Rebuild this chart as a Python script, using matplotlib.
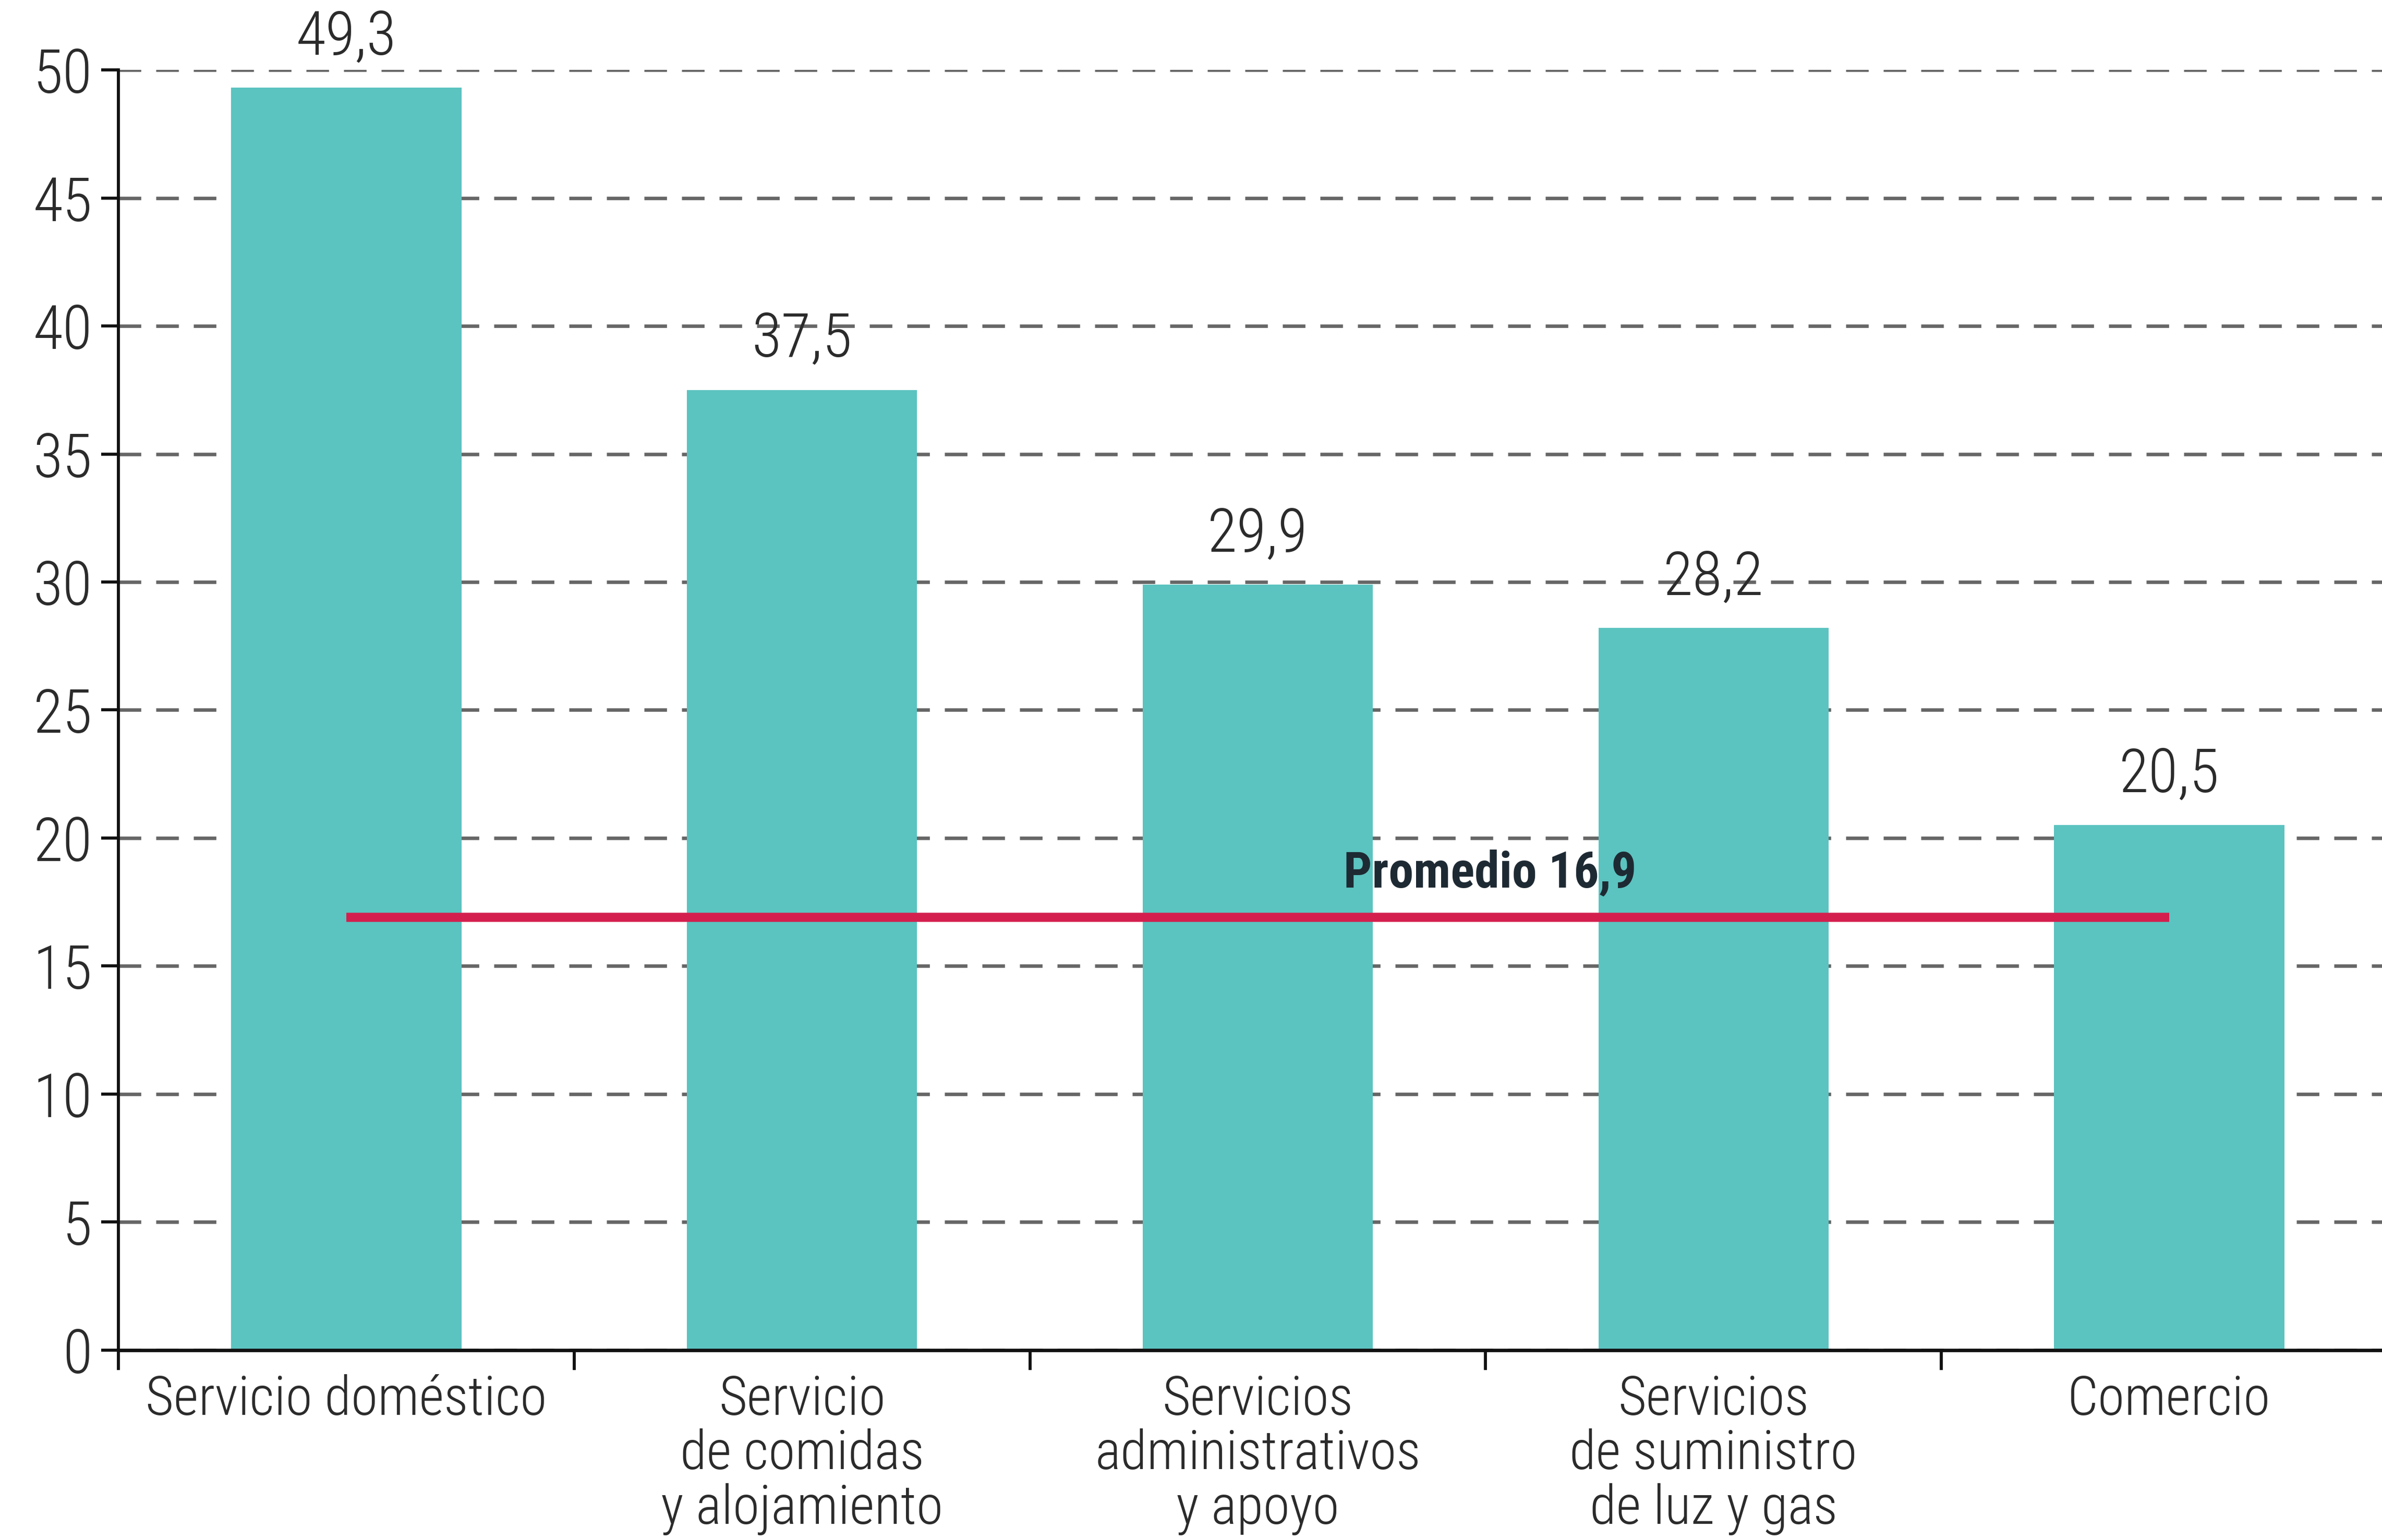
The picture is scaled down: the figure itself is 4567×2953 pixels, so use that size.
import matplotlib
matplotlib.use("Agg")
import matplotlib.pyplot as plt
from matplotlib.ticker import FixedLocator, NullFormatter

plt.rcParams['font.family'] = ['Roboto Condensed', 'Archivo Narrow',
                               'IBM Plex Sans Condensed', 'DejaVu Sans']

# data
categories = ["Servicio doméstico",
              "Servicio\nde comidas\ny alojamiento",
              "Servicios\nadministrativos\ny apoyo",
              "Servicios\nde suministro\nde luz y gas",
              "Comercio"]
values = [49.3, 37.5, 29.9, 28.2, 20.5]
value_labels = ["49,3", "37,5", "29,9", "28,2", "20,5"]
average = 16.9
average_label = "Promedio 16,9"
y_ticks = [0, 5, 10, 15, 20, 25, 30, 35, 40, 45, 50]

bar_color = "#5BC3C0"
avg_color = "#D41F4E"
text_color = "#2b2b2b"

fig = plt.figure(figsize=(4567 / 300, 2953 / 300), dpi=300)
ax = fig.add_axes([0.0497, 0.1233, 1500 / 1568, 0.8313])

x = list(range(len(categories)))
ax.bar(x, values, width=0.505, color=bar_color, zorder=2)

# value labels above bars
for xi, v, lab in zip(x, values, value_labels):
    ax.annotate(lab, (xi, v), xytext=(0, 9.5), textcoords="offset points",
                ha="center", va="bottom", fontsize=28, color=text_color,
                fontweight="light")

# average line from first to last bar centre
ax.plot([x[0], x[-1]], [average, average], color=avg_color, lw=4.2,
        solid_capstyle="butt", zorder=3)
ax.text(2.51, average + 0.75, average_label, ha="center", va="bottom",
        fontsize=23, fontweight="bold", color="#1e2a33", zorder=4)

# axes
ax.set_xlim(-0.5, len(categories) - 0.5)
ax.set_ylim(0, 50)
ax.set_yticks(y_ticks)
ax.set_yticklabels([str(t) for t in y_ticks], fontsize=28, color=text_color,
                   fontweight="light")

ax.xaxis.set_major_locator(FixedLocator([i - 0.5 for i in range(len(categories) + 1)]))
ax.xaxis.set_major_formatter(NullFormatter())
ax.xaxis.set_minor_locator(FixedLocator(x))
ax.set_xticklabels(categories, minor=True, fontsize=25, color=text_color,
                   linespacing=1.07, va="top", ha="center", fontweight="light")

ax.tick_params(axis="x", which="major", direction="out", length=9, width=1.4, color="#111")
ax.tick_params(axis="x", which="minor", length=0, pad=11)
ax.tick_params(axis="y", direction="out", length=8, width=1.4, color="#111", pad=4)

for s in ["top", "right"]:
    ax.spines[s].set_visible(False)
ax.spines["left"].set_linewidth(1.4)
ax.spines["bottom"].set_linewidth(1.6)
ax.spines["left"].set_color("#111")
ax.spines["bottom"].set_color("#111")

ax.yaxis.grid(True, color="#666666", lw=1.6, dashes=(6.5, 4.3), zorder=0)
ax.set_axisbelow(True)

fig.savefig("out.png", dpi=300, facecolor="white")
